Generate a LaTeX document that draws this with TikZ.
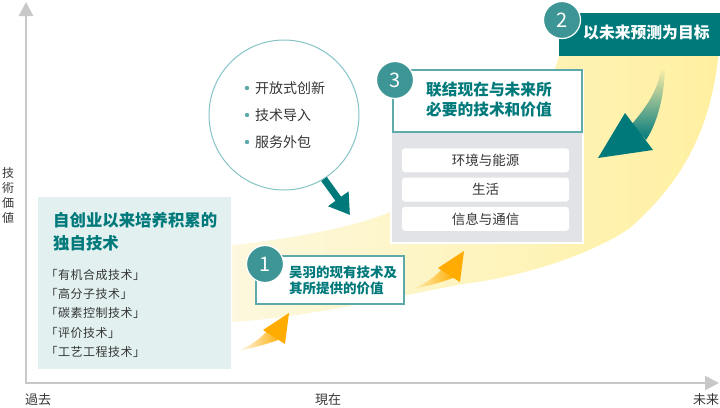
\documentclass[tikz,border=0pt]{standalone}
\usepackage{fontspec}
\setmainfont{Noto Sans CJK SC}
\newfontfamily\jpfont{Noto Sans CJK JP}
\usetikzlibrary{arrows.meta,fadings}

\definecolor{tealdark}{HTML}{00797B}
\definecolor{tealline}{HTML}{5EA9AA}
\definecolor{tealnum}{HTML}{3E9595}
\definecolor{bubbleline}{HTML}{86C3C6}
\definecolor{boxmint}{HTML}{E2F0F0}
\definecolor{panelgray}{HTML}{E2E3E7}
\definecolor{axisgray}{HTML}{C8C8C8}
\definecolor{textgray}{HTML}{363636}
\definecolor{swooshpale}{HTML}{FDF8DE}
\definecolor{swooshyellow}{HTML}{FFF0A0}
\definecolor{arroworange}{HTML}{FFAB00}

\tikzfading[name=fadein east, left color=transparent!100, right color=transparent!0]
\tikzfading[name=fadein south, top color=transparent!100, bottom color=transparent!0]

\begin{document}
\begin{tikzpicture}[x=1pt,y=-1pt,
  numcirc/.style={circle,fill=tealnum,draw=white,line width=1.2pt,minimum size=37pt,
    inner sep=0pt,text=white,font=\fontsize{20}{20}\selectfont},
  framebox/.style={draw=tealline,line width=2.2pt,fill=white,inner sep=0pt},
  topicbox/.style={fill=white,rounded corners=3pt,minimum width=167pt,minimum height=24pt,
    inner sep=0pt,text=textgray,font=\fontsize{13.5}{16}\selectfont},
  axislabel/.style={inner sep=0pt,text=textgray,font=\jpfont\fontsize{13}{15}\selectfont},
  techitem/.style={anchor=west,inner sep=0pt,text=textgray,
    font=\addfontfeature{LetterSpace=4}\fontsize{12}{14}\selectfont},
  bubbleitem/.style={anchor=west,inner sep=0pt,text=textgray,font=\fontsize{14}{16}\selectfont},
  tealtitle/.style={inner sep=0pt,text=tealdark,font=\bfseries\fontsize{#1}{#1}\selectfont}]
\useasboundingbox (0,0) rectangle (720,407);

% yellow swoosh
\shade[left color=swooshpale,right color=swooshyellow]
  (232,245) .. controls (300,238) and (360,225) .. (390,212)
  .. controls (480,175) and (550,110) .. (560,50) -- (719,50)
  .. controls (712,120) and (690,175) .. (630,228)
  .. controls (580,262) and (500,280) .. (463,284)
  .. controls (380,300) and (300,318) .. (232,322) -- cycle;

% axes
\coordinate (origin) at (26,383);
\coordinate (ytip) at (26,2);
\coordinate (xtip) at (719,383);
\draw[axisgray,line width=2.5pt,{Triangle[length=14pt,width=14pt]}-{Triangle[length=14pt,width=14pt]}]
  (ytip) -- (origin) -- (xtip);
\node[axislabel] (past) at (38,400) {過去};
\node[axislabel] (present) at (328,400) {現在};
\node[axislabel] (future) at (706,400) {未来};
\node[axislabel,align=center,font=\jpfont\fontsize{12}{15}\selectfont] (value) at (8,195) {技\\術\\価\\値};

% own technology box
\node[fill=boxmint,minimum width=193pt,minimum height=172pt,inner sep=0pt] (ownbox) at (134.5,283) {};
\node[tealtitle=16.4,anchor=west,align=left,font=\bfseries\fontsize{16.4}{23}\selectfont] (owntitle) at (53,231.5)
  {自创业以来培养积累的\\独自技术};
\foreach \t [count=\i] in {「有机合成技术」,「高分子技术」,「碳素控制技术」,「评价技术」,「工艺工程技术」}
  \node[techitem] (tech\i) at (45.5,{275+19.2*(\i-1)}) {\t};

% bubble
\node[circle,draw=bubbleline,line width=1pt,fill=white,minimum size=150pt,inner sep=0pt] (bubble) at (284,115) {};
\foreach \t [count=\i] in {开放式创新,技术导入,服务外包} {
  \fill[tealline] (247,{61+27*\i}) circle (2.2);
  \node[bubbleitem] (way\i) at (255,{61+27*\i}) {\t};
}
\coordinate (bubbletip) at (350,215);
\draw[tealdark,line width=7pt,-{Triangle[length=20pt,width=24pt]}] (bubble.-58) -- (bubbletip);

% step 3
\fill[panelgray,draw=white,line width=1.5pt] (391,70) rectangle (583,243);
\node[framebox,minimum width=189pt,minimum height=62pt] (goalbox) at (487.5,101) {};
\node[tealtitle=15.7,align=center,font=\bfseries\fontsize{15.7}{20}\selectfont] (goaltitle) at (489,100)
  {联结现在与未来所\\必要的技术和价值};
\foreach \t [count=\i] in {环境与能源,生活,信息与通信}
  \node[topicbox] (topic\i) at (485.5,{131+29.3*\i}) {\t};
\node[numcirc] (num3) at (395,80) {3};

% step 1
\node[framebox,minimum width=148pt,minimum height=48pt] (nowbox) at (330,280) {};
\node[tealtitle=13.5,anchor=west,align=left,font=\bfseries\fontsize{13.5}{16}\selectfont] (nowtitle) at (289,280)
  {吴羽的现有技术及\\其所提供的价值};
\node[numcirc] (num1) at (265,264) {1};

% orange arrows
\foreach \dx/\dy in {0/0,175/-62} {
  \begin{scope}[shift={(\dx,\dy)}]
    \fill[arroworange,path fading=fadein east] (237,351) .. controls (250,349) and (264,345) .. (281,339)
      -- (268,330) .. controls (260,339) and (250,346) .. (237,351) -- cycle;
    \fill[arroworange] (263,330) -- (289,313) -- (285,344) -- cycle;
  \end{scope}
}

% step 2
\node[fill=tealdark,minimum width=161pt,minimum height=43pt,inner sep=0pt] (futurebar) at (639.5,34.5) {};
\node[anchor=west,inner sep=0pt,text=white,font=\bfseries\fontsize{15.8}{15.8}\selectfont] (futuretitle) at (583,33) {以未来预测为目标};
\node[numcirc] (num2) at (562,20) {2};
\fill[tealdark,path fading=fadein south] (665,68) .. controls (664,100) and (656,125) .. (646,140)
  -- (632,124) .. controls (648,105) and (658,90) .. (661,68) -- cycle;
\fill[tealdark] (625,113) -- (598,158) -- (653,150) -- cycle;
\end{tikzpicture}
\end{document}
